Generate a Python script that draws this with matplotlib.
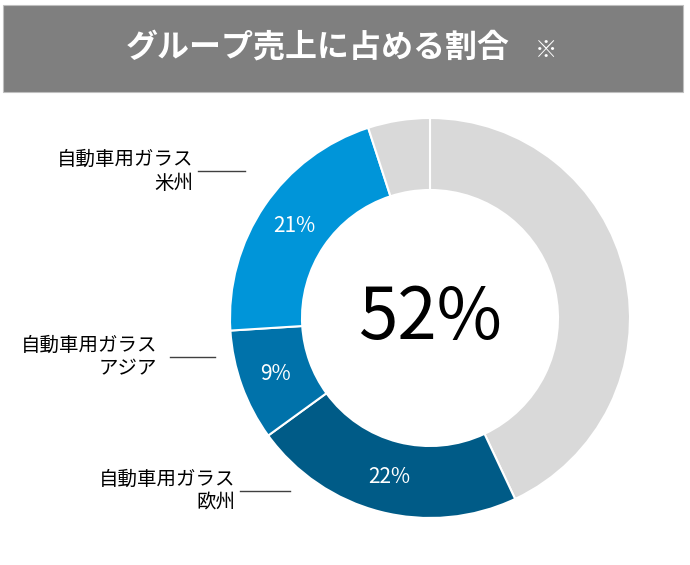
import matplotlib
matplotlib.use('Agg')
from matplotlib import pyplot as plt
from matplotlib.patches import Rectangle

plt.rcParams['font.family'] = ['Noto Sans CJK JP', 'DejaVu Sans']

# slices clockwise from 12 o'clock
shares = [43, 22, 9, 21, 5]
slice_labels = ['', '22%', '9%', '21%', '']
colors = ['#d9d9d9', '#005b87', '#0072aa', '#0095d9', '#d9d9d9']
center_text = '52%'
title = 'グループ売上に占める割合'
region_names = ['自動車用ガラス\n米州', '自動車用ガラス\nアジア', '自動車用ガラス\n欧州']

W, H = 690, 565
fig = plt.figure(figsize=(W / 100, H / 100), dpi=100)

# title bar
fig.patches.append(Rectangle((3 / W, 1 - 92 / H), 680 / W, 87 / H,
                             transform=fig.transFigure, facecolor='#7f7f7f',
                             edgecolor='#bfbfbf', lw=0.8))
fig.text(318 / W, 1 - 48 / H, title, color='white', fontsize=23,
         fontweight='bold', ha='center', va='center')
fig.text(546 / W, 1 - 50 / H, '※', color='white', fontsize=16,
         fontweight='bold', ha='center', va='center')

# donut: center (430,317), radius 200 px
cx, cy, R = 430, 318, 200
ax = fig.add_axes([(cx - R) / W, (H - cy - R) / H, 2 * R / W, 2 * R / H])
wedges, texts = ax.pie(shares, colors=colors, startangle=90, counterclock=False,
                       radius=1, labels=slice_labels, labeldistance=0.82,
                       wedgeprops=dict(width=0.36, edgecolor='white', linewidth=1.5),
                       textprops=dict(color='white', fontsize=15, ha='center', va='center'))
ax.set_xlim(-1, 1)
ax.set_ylim(-1, 1)
ax.set_aspect('equal')
ax.axis('off')

ax.text(0, 0, center_text, fontsize=51, ha='center', va='center', color='black')


def px(x, y):
    return (x - cx) / R, (cy - y) / R


# side labels with leader lines: (text right edge, text mid y, line x0, line x1)
label_pos = [(193, 171, 198, 245), (157, 357, 170, 215), (235, 491, 240, 290)]
for name, (tx, ty, lx0, lx1) in zip(region_names, label_pos):
    x, y = px(tx, ty)
    ax.text(x, y, name, fontsize=14, ha='right', va='center',
            multialignment='right', linespacing=1.2, clip_on=False)
    x0, y0 = px(lx0, ty)
    x1, _ = px(lx1, ty)
    ax.plot([x0, x1], [y0, y0], color='#404040', lw=1, clip_on=False)

fig.savefig('out.png', dpi=100)
